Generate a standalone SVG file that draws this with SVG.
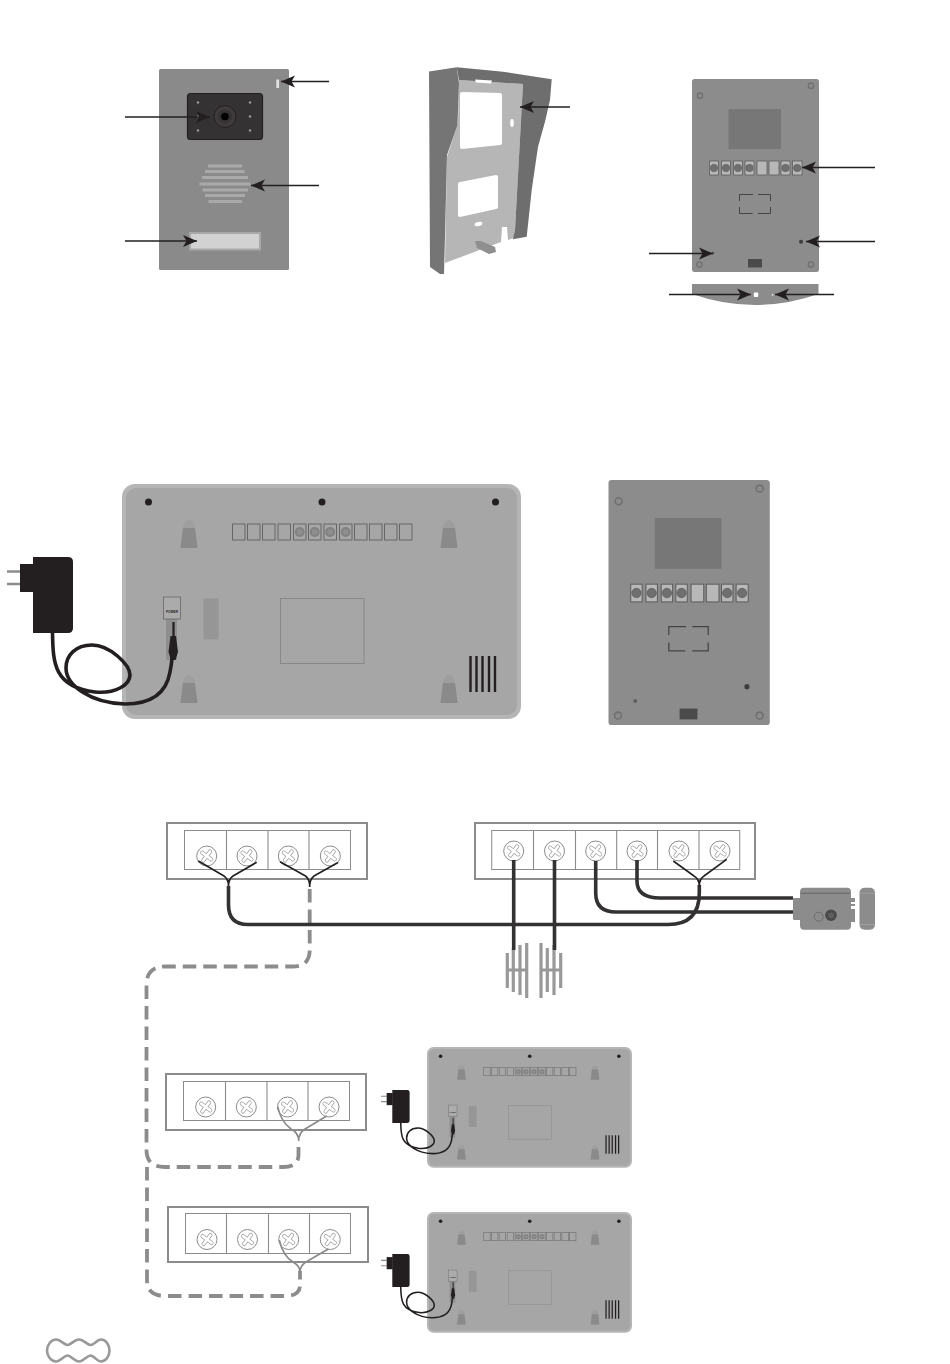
<svg xmlns="http://www.w3.org/2000/svg" width="950" height="1364" viewBox="0 0 950 1364">
<style>
.arrow{fill:none;stroke:#231f20;stroke-width:1.3;marker-end:url(#head)}
.blockO{fill:#fff;stroke:#8c8c8c;stroke-width:2}
.blockI{fill:#fff;stroke:#8c8c8c;stroke-width:1}
.div{stroke:#8c8c8c;stroke-width:1.1}
.thick{fill:none;stroke:#333132;stroke-width:3.6;stroke-linecap:butt}
.thin{fill:none;stroke:#231f20;stroke-width:1.6}
.thinG{fill:none;stroke:#8a8a8a;stroke-width:1.6}
.dash{fill:none;stroke:#8c8c8c;stroke-width:3.8;stroke-dasharray:13.5 7}
.term{fill:#b8b8b8;stroke:#5c5c5c;stroke-width:.8}
.grille{stroke:#999;stroke-width:3.2;fill:none}
.mterm{fill:none;stroke:#666;stroke-width:1}
</style>
<defs>
<marker id="head" markerUnits="userSpaceOnUse" markerWidth="16" markerHeight="14" refX="15" refY="7" orient="auto">
<path d="M15,7 L1,1 L4.5,7 L1,13 Z" fill="#231f20"/>
</marker>
<g id="screw">
<circle r="10" fill="#fff" stroke="#8c8c8c" stroke-width="1"/>
<g transform="rotate(-8)" stroke-linecap="round" fill="none">
<path d="M-4,-4 L4,4 M-4,4 L4,-4" stroke="#999" stroke-width="4"/>
<path d="M-4,-4 L4,4 M-4,4 L4,-4" stroke="#fff" stroke-width="2.7"/>
</g>
</g>
<g id="key">
<path d="M-8.5,28 L-6,8 Q-5,0 0,0 Q5,0 6,8 L8.5,28 Z" fill="#9e9e9e"/>
<path d="M-8.5,28 L-6,8 H6 L8.5,28 Z" fill="#8a8a8a"/>
</g>
<g id="mterm"><rect x="0" y="0" width="12.5" height="16" class="mterm"/></g>
<g id="mtermS"><rect x="0" y="0" width="12.5" height="16" class="mterm"/><circle cx="6.2" cy="8" r="5" fill="#828282"/><circle cx="6.2" cy="8" r="2.8" fill="#8f8f8f"/></g>
<g id="monitor">
<rect x="122" y="484" width="399" height="235" rx="13" fill="#b5b5b5"/>
<rect x="126" y="488" width="391" height="227" rx="10" fill="#a6a6a6"/>
<circle cx="148.5" cy="502" r="3.5" fill="#231f20"/>
<circle cx="322" cy="502" r="3.5" fill="#231f20"/>
<circle cx="495.5" cy="502" r="3.5" fill="#231f20"/>
<use href="#key" x="189" y="520"/>
<use href="#key" x="449" y="520"/>
<use href="#key" x="189" y="675"/>
<use href="#key" x="449" y="675"/>
<use href="#mterm" x="232.5" y="524"/>
<use href="#mterm" x="247.5" y="524"/>
<use href="#mterm" x="262.5" y="524"/>
<use href="#mterm" x="278" y="524"/>
<use href="#mtermS" x="293.5" y="524"/>
<use href="#mtermS" x="308.5" y="524"/>
<use href="#mtermS" x="324" y="524"/>
<use href="#mtermS" x="339.5" y="524"/>
<use href="#mterm" x="354.5" y="524"/>
<use href="#mterm" x="369.5" y="524"/>
<use href="#mterm" x="384.5" y="524"/>
<use href="#mterm" x="399.5" y="524"/>
<rect x="166" y="619" width="11" height="41" fill="#8f8f8f"/>
<rect x="163.5" y="597" width="17" height="22" fill="#ababab" stroke="#666" stroke-width=".8"/>
<text x="172" y="613" font-family="'Liberation Sans',Arial,sans-serif" font-size="3.2" font-weight="700" text-anchor="middle" fill="#231f20">POWER</text>
<rect x="203.5" y="598.5" width="15" height="41" fill="#969696"/>
<rect x="280.5" y="598.5" width="83.5" height="65" fill="none" stroke="#888" stroke-width="1"/>
<path d="M470.5,656 V692 M476.5,656 V692 M482.5,656 V692 M489,656 V692 M495,656 V692" fill="none" stroke="#231f20" stroke-width="2.4"/>
</g>
<g id="adapter">
<path d="M7,571.5 H20 M7,584 H20" stroke="#8c8c8c" stroke-width="2.6" fill="none"/>
<rect x="20" y="564" width="14" height="28" fill="#231f20"/>
<path d="M33,557 H68 Q73,557 73,562 V628 Q73,633 68,633 H33 Z" fill="#231f20"/>
<path d="M52.5,633 C53,663 54,687 95,692 C115,694 130,685 130,675 C130,665 110,645 92,645 C76,645 66,655 66,668 C66,685 90,703 125,704 C149,704 166,695 170,672 C172,662 173,655 173,640" fill="none" stroke="#231f20" stroke-width="3.6"/>
<path d="M170.5,636 H176 L178,652 L175.5,660 H171 L168.5,652 Z" fill="#231f20"/>
<path d="M173.5,622 V640" stroke="#231f20" stroke-width="2.2" fill="none"/>
</g>
<g id="back">
<rect x="692" y="79" width="127" height="193" rx="2.5" fill="#8c8c8c"/>
<rect x="728.5" y="109" width="52.5" height="40" fill="#777"/>
<g class="term">
<rect x="709.5" y="161" width="9" height="14"/><rect x="721.5" y="161" width="9" height="14"/><rect x="733.5" y="161" width="9" height="14"/><rect x="745" y="161" width="9" height="14"/>
<rect x="757" y="161" width="10" height="14"/><rect x="769" y="161" width="10" height="14"/><rect x="781" y="161" width="9" height="14"/><rect x="792.5" y="161" width="9.5" height="14"/>
</g>
<g fill="#6f6f6f" stroke="#555" stroke-width=".5">
<circle cx="714" cy="168" r="3.7"/><circle cx="726" cy="168" r="3.7"/><circle cx="738" cy="168" r="3.7"/><circle cx="749.5" cy="168" r="3.7"/><circle cx="785.5" cy="168" r="3.7"/><circle cx="797.2" cy="168" r="3.7"/>
</g>
<path d="M739.5,201 V194.5 H753 M758,194.5 H770.5 V201 M770.5,207 V213.5 H758 M752.5,213.5 H739.5 V207" fill="none" stroke="#444" stroke-width="1"/>
<g fill="#8c8c8c" stroke="#707070" stroke-width="1.3">
<circle cx="811" cy="85.7" r="2.7"/><circle cx="700" cy="95.7" r="2.7"/><circle cx="699.5" cy="264.5" r="2.7"/><circle cx="811" cy="264.5" r="2.7"/>
</g>
<circle cx="801" cy="241.7" r="2" fill="#3c3c3c"/>
<circle cx="713" cy="253" r="1.5" fill="#5e5e5e"/>
<rect x="748" y="259" width="14" height="8.5" fill="#4a4a4a"/>
</g>
</defs>

<g id="door-front">
<rect x="159" y="69" width="130" height="201" rx="1.5" fill="#8a8a8a"/>
<rect x="187.5" y="93.5" width="75" height="46" rx="3" fill="#353233" stroke="#231f20" stroke-width="1.2"/>
<circle cx="225" cy="116.5" r="11" fill="#3f3b3c" stroke="#231f20" stroke-width="1"/>
<circle cx="225" cy="116.5" r="7" fill="#353233"/>
<circle cx="225" cy="116.5" r="3.8" fill="#000"/>
<g fill="#9a9a9a"><circle cx="198" cy="102.5" r="1.2"/><circle cx="198" cy="116.5" r="1.2"/><circle cx="198" cy="130.5" r="1.2"/><circle cx="250" cy="102.5" r="1.2"/><circle cx="250" cy="116.5" r="1.2"/><circle cx="250" cy="130.5" r="1.2"/></g>
<path d="M208,166 H242 M205,171.5 H244.5 M202,177.5 H248 M199.5,184 H250.5 M202.5,190 H248 M205,195.5 H245 M208.5,201.5 H242" stroke="#a9a9a9" stroke-width="3" fill="none"/>
<rect x="190" y="233" width="70" height="16.5" fill="#d2d2d2" stroke="#a8a8a8" stroke-width="2"/>
<rect x="276.3" y="79.5" width="2.8" height="8.5" fill="#e0e0e0"/>
</g>

<g id="bracket">
<path d="M459,80 L523,84 L515,230 L514,238 L508,240 L507,227 L502,227 L501,242 L445,263 L447,157 L458,123 Z" fill="#b6b6b6"/>
<path d="M429,71.5 L456.7,67.3 L459,83 L457.5,125 L447,155 L445,237 L444,274 L440,274 L430,267 Z" fill="#757575"/>
<path d="M456.7,67.3 L503,71.7 L551.7,79.3 L550,100 L545,121.7 L538,146.7 L531.7,190 L526.7,236.7 L513,239.3 L515,230 L523,84 L459,80 Z" fill="#6e6e6e"/>
<path d="M462,92 L500,93 Q502,93 502,95 V143 Q502,145 500,145 L462,149 Q460,149 460,147 V94 Q460,92 462,92 Z" fill="#fff"/>
<path d="M460,182 L496,175 Q498,175 498,177 V207 Q498,209 496,209 L460,217 Q458,217 458,215 V184 Q458,182 460,182 Z" fill="#fff"/>
<ellipse cx="512" cy="123" rx="1.8" ry="4" fill="#fff"/>
<ellipse cx="478.5" cy="224" rx="4" ry="2" fill="#fff" transform="rotate(-15 478.5 224)"/>
<path d="M475,79.5 L492,80.5 L491,83.5 L476,82.5 Z" fill="#fff"/>
<path d="M475,241 L481,241 L495,247 L496,252 L489,254 L477,248 Z" fill="#8f8f8f"/>
</g>

<g id="door-back"><use href="#back"/></g>
<g id="door-back-cap">
<path d="M692,284 H818.5 V294 Q755,316 692,294 Z" fill="#8c8c8c"/>
<rect x="753.8" y="292.5" width="4.5" height="4.5" rx="1" fill="#fff"/>
<circle cx="772.6" cy="294.8" r=".9" fill="#eee"/>
</g>

<g id="arrows">
<path class="arrow" d="M329,81.5 H281"/>
<path class="arrow" d="M125,117 H210"/>
<path class="arrow" d="M319,185.5 H251"/>
<path class="arrow" d="M125,241 H197"/>
<path class="arrow" d="M570,107 H520"/>
<path class="arrow" d="M875,167.5 H802"/>
<path class="arrow" d="M875,241.5 H806"/>
<path class="arrow" d="M649,253.5 H713"/>
<path class="arrow" d="M669,294.5 H751"/>
<path class="arrow" d="M834,294.5 H775"/>
</g>

<g id="monitor-large"><use href="#monitor"/></g>
<g id="adapter-large"><use href="#adapter"/></g>
<g id="door-back-large"><use href="#back" transform="translate(608.5,480) scale(1.27) translate(-692,-79)"/></g>

<g id="block-a">
<rect class="blockO" x="167" y="823" width="200" height="56"/>
<rect class="blockI" x="184.5" y="830.5" width="166" height="39"/>
<path class="div" d="M226.5,830.5 V869.5 M268,830.5 V869.5 M309,830.5 V869.5"/>
<use href="#screw" x="206.7" y="856"/><use href="#screw" x="247" y="856"/><use href="#screw" x="288.3" y="856"/><use href="#screw" x="330.3" y="856"/>
</g>
<g id="block-b">
<rect class="blockO" x="475" y="823" width="280" height="56"/>
<rect class="blockI" x="491.7" y="830.5" width="248" height="39"/>
<path class="div" d="M533.5,830.5 V869.5 M575.5,830.5 V869.5 M616.7,830.5 V869.5 M657.5,830.5 V869.5 M699,830.5 V869.5"/>
<use href="#screw" x="513.7" y="851"/><use href="#screw" x="554.5" y="851"/><use href="#screw" x="595.7" y="851"/><use href="#screw" x="637" y="851"/><use href="#screw" x="679" y="851"/><use href="#screw" x="720" y="851"/>
</g>
<g id="block-c">
<rect class="blockO" x="166" y="1074" width="200" height="56"/>
<rect class="blockI" x="183.5" y="1081.5" width="166" height="39"/>
<path class="div" d="M225.5,1081.5 V1120.5 M267,1081.5 V1120.5 M308,1081.5 V1120.5"/>
<use href="#screw" x="205.7" y="1107"/><use href="#screw" x="246.3" y="1107"/><use href="#screw" x="287.5" y="1107"/><use href="#screw" x="329" y="1107"/>
</g>
<g id="block-d">
<rect class="blockO" x="168" y="1207" width="200" height="55"/>
<rect class="blockI" x="185.5" y="1213.5" width="165" height="40"/>
<path class="div" d="M226.5,1213.5 V1253.5 M268.5,1213.5 V1253.5 M309.5,1213.5 V1253.5"/>
<use href="#screw" x="207" y="1239.5"/><use href="#screw" x="247.5" y="1239.5"/><use href="#screw" x="288.7" y="1239.5"/><use href="#screw" x="330.3" y="1239.5"/>
</g>

<g id="speaker">
<path class="grille" d="M507.3,953 V988 M513.3,948 V992 M520,945 V995 M526.7,943 V998 M541,943 V998 M547.3,948 V992 M554,945 V995 M560.7,953 V988"/>
<path d="M507,970 H527 M541,970 H561" stroke="#999" stroke-width="3" fill="none"/>
</g>

<g id="lock">
<rect x="793" y="898" width="8" height="22" rx="1" fill="#8c8c8c"/>
<rect x="800" y="887.7" width="51" height="42" rx="4" fill="#8c8c8c"/>
<path d="M801,893.3 H850" stroke="#555" stroke-width=".7" fill="none"/>
<path d="M851,898 H855 V902 H851 Z M851,904 H855 V906 H851 Z M851,909 H855 V922 H851 Z" fill="#8c8c8c"/>
<circle cx="818.7" cy="916.7" r="4.5" fill="#8c8c8c" stroke="#666" stroke-width=".8"/>
<circle cx="831" cy="915.2" r="5.8" fill="#4a4a4a"/>
<circle cx="831" cy="915.2" r="2.8" fill="#5e5e5e"/>
<rect x="859.5" y="887.7" width="15.5" height="42" rx="5" fill="#8c8c8c"/>
<path d="M860,893.3 H875 M860,924.5 H875" stroke="#a8a8a8" stroke-width=".7" fill="none"/>
</g>

<g id="monitor-1"><use href="#monitor" transform="translate(364.3,798.3) scale(.5138)"/></g>
<g id="adapter-1"><use href="#adapter" transform="translate(378,848.8) scale(.433)"/></g>
<g id="monitor-2"><use href="#monitor" transform="translate(364.3,963.3) scale(.5138)"/></g>
<g id="adapter-2"><use href="#adapter" transform="translate(378,1012.9) scale(.433)"/></g>

<g id="connectors">
<path class="dash" d="M309.7,889 V950 Q309.7,966.5 293,966.5 H165 Q146.5,966.5 146.5,985 V1150 Q146.5,1167 165,1167 H283 Q298.5,1167 298.5,1155 V1141"/>
<path class="dash" d="M147,1167 V1280 Q147,1296 165,1296 H285 Q300,1296 300,1285 V1271"/>
<path class="thick" d="M228.5,886 V905 Q228.5,924.5 248,924.5 H668 Q699.3,924.5 699.3,893 V885"/>
<path class="thick" d="M513.7,860 V950 M554.5,860 V950"/>
<path class="thick" d="M595.7,861 V893 Q595.7,912 616,912 H793"/>
<path class="thick" d="M637,860 V881 Q637,898 660,898 H793"/>
<path class="thin" d="M198.3,861 L224,876 Q228.5,879 228.5,886 Q228.5,879 233,876 L256.7,862.3"/>
<path class="thin" d="M280,861.7 L305.5,876 Q309.7,879 309.7,887 Q309.7,879 314,876 L338,862.5"/>
<path class="thin" d="M673.3,861 L694,876 Q699.3,879 699.3,886 Q699.3,879 704,876 L726.7,859.3"/>
<path class="thinG" d="M277.7,1106.7 Q281,1122 291,1129 Q298.7,1133 298.7,1141 Q298.7,1133 305,1129 L326.7,1116"/>
<path class="thinG" d="M279.3,1240 Q283,1256 293,1262 Q300,1266 300,1272 Q300,1266 306,1262 L328.3,1249"/>
</g>

<g id="logo">
<path d="M56,1339.5 C61,1339.5 64,1345 67.5,1345 C71,1345 74,1339.5 79,1339.5 C84,1339.5 87,1345 90.5,1345 C94,1345 97,1339.5 101,1339.5 C106,1339.5 109.5,1345 109.5,1350.5 C109.5,1356 106,1361.5 101,1361.5 C97,1361.5 94,1355.5 90.5,1355.5 C87,1355.5 84,1361.5 79,1361.5 C74,1361.5 71,1355.5 67.5,1355.5 C64,1355.5 61,1361.5 56,1361.5 C51,1361.5 47,1356 47,1350.5 C47,1345 51,1339.5 56,1339.5 Z" fill="none" stroke="#999" stroke-width="2.6"/>
</g>
</svg>
